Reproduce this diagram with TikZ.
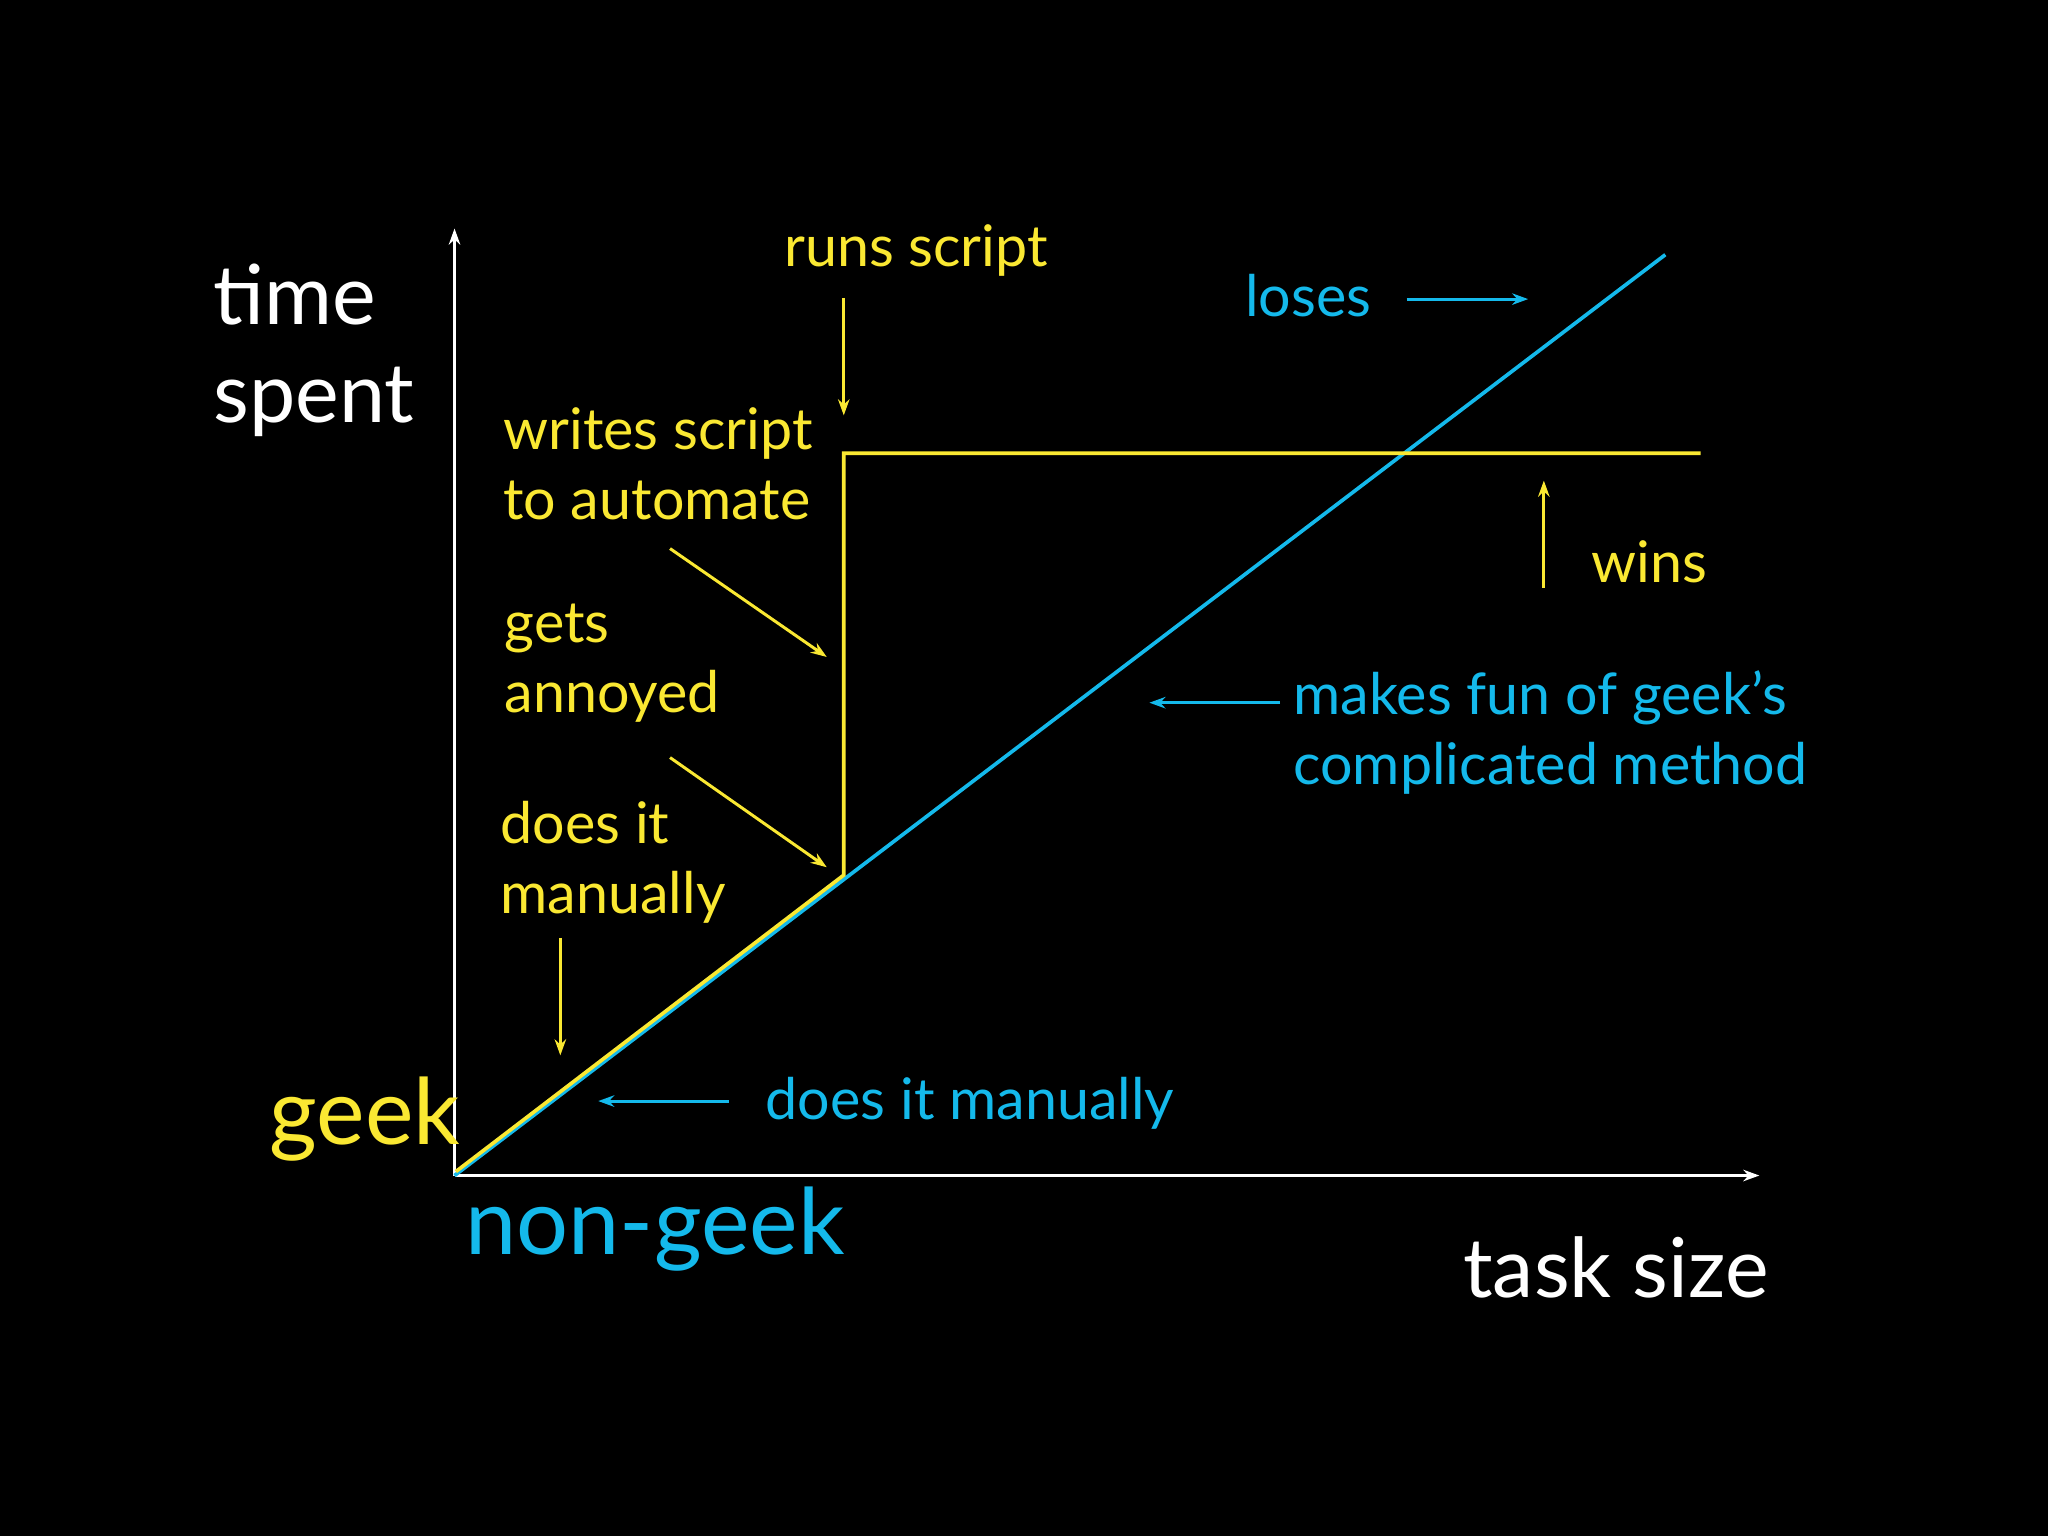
\documentclass[tikz,border=0pt]{standalone}
\usepackage{fontspec}
\setmainfont{Lato}
\usetikzlibrary{arrows.meta}
\definecolor{gy}{RGB}{250,232,50}
\definecolor{gb}{RGB}{20,185,235}
\tikzset{
 ln/.style={line width=1.6pt},
 arr/.style={line width=1.3pt,-{Stealth[length=7pt,width=5pt]}},
 lbl/.style={font=\fontsize{25}{30.6}\selectfont,align=left,inner sep=0pt},
 big/.style={font=\fontsize{36}{42.5}\selectfont,align=left,inner sep=0pt},
 huge/.style={font=\fontsize{40}{46}\selectfont,inner sep=0pt}
}
\begin{document}
\begin{tikzpicture}[x=0.02cm,y=-0.02cm]
\fill[black] (0,0) rectangle (1568,1176);
\useasboundingbox (0,0) rectangle (1568,1176);
% axes
\coordinate (O) at (348,900);
\coordinate (Ytop) at (348,175);
\coordinate (Xend) at (1347,900);
\draw[white,arr,line width=1.6pt] (O) -- (Ytop);
\draw[white,arr,line width=1.6pt] (O) -- (Xend);
% curves
\coordinate (B1) at (1275,195);
\coordinate (Y1) at (646,670);
\coordinate (Y2) at (646,347);
\coordinate (Y3) at (1302,347);
\draw[gb,ln] (O) -- (B1);
\draw[gy,ln] (349,897) -- (Y1) -- (Y2) -- (Y3);
% labels
\node[big,white,anchor=west] (ts) at (163,268) {time\\spent};
\node[big,white,anchor=west] (task) at (1120,970) {task size};
\node[huge,gy,anchor=west] (geek) at (206,857) {geek};
\node[huge,gb,anchor=west] (ng) at (356,941) {non-geek};
\node[lbl,gy,anchor=west] (runs) at (600,192) {runs script};
\node[lbl,gb,anchor=west] (loses) at (953,226) {loses};
\node[lbl,gy,anchor=west] (writes) at (385,355) {writes script\\to automate};
\node[lbl,gy,anchor=west] (wins) at (1218,430) {wins};
\node[lbl,gy,anchor=west] (gets) at (386,508) {gets\\annoyed};
\node[lbl,gb,anchor=west] (fun) at (990,561) {makes fun of geek’s\\complicated method};
\node[lbl,gy,anchor=west] (does) at (383,660) {does it\\manually};
\node[lbl,gb,anchor=west] (doesb) at (586,845) {does it manually};
% arrows
\coordinate (a1s) at (646,228); \coordinate (a1e) at (646,318);
\coordinate (a2s) at (1077,229); \coordinate (a2e) at (1170,229);
\coordinate (a3s) at (1182,450); \coordinate (a3e) at (1182,368);
\coordinate (a4s) at (513,420); \coordinate (a4e) at (633,503);
\coordinate (a5s) at (513,580); \coordinate (a5e) at (633,664);
\coordinate (a6s) at (429,718); \coordinate (a6e) at (429,808);
\coordinate (a7s) at (558,843); \coordinate (a7e) at (458,843);
\coordinate (a8s) at (980,538); \coordinate (a8e) at (880,538);
\draw[gy,arr] (a1s) -- (a1e);
\draw[gb,arr] (a2s) -- (a2e);
\draw[gy,arr] (a3s) -- (a3e);
\draw[gy,arr] (a4s) -- (a4e);
\draw[gy,arr] (a5s) -- (a5e);
\draw[gy,arr] (a6s) -- (a6e);
\draw[gb,arr] (a7s) -- (a7e);
\draw[gb,arr] (a8s) -- (a8e);
\end{tikzpicture}
\end{document}
